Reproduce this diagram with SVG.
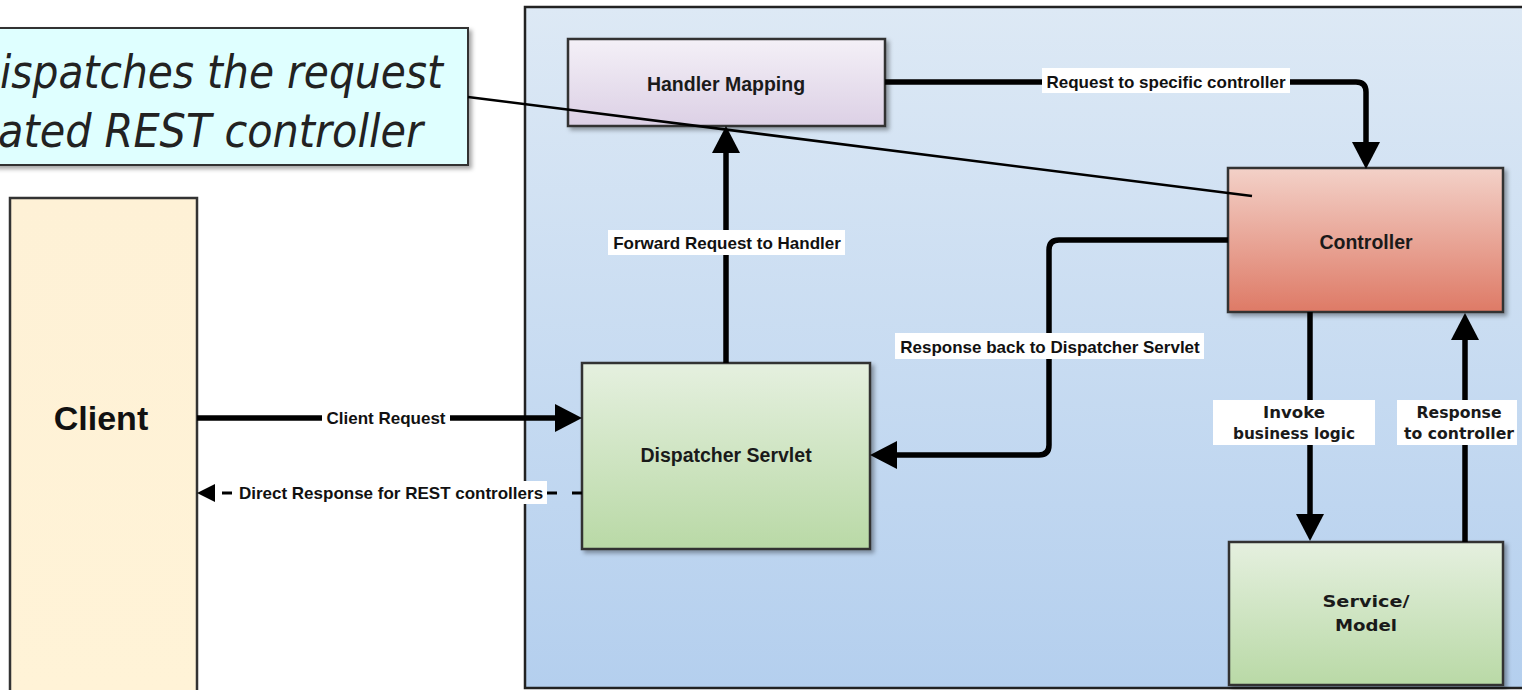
<svg xmlns="http://www.w3.org/2000/svg" width="1522" height="690" viewBox="0 0 1522 690">
<style>
.node{stroke:#333;stroke-width:2.5}
.nlabel{font-family:"Liberation Sans",Arial,sans-serif;font-weight:bold;font-size:19.5px;fill:#1a1a1a;text-anchor:middle}
.elabel{font-family:"Liberation Sans",Arial,sans-serif;font-weight:bold;font-size:17px;fill:#111;text-anchor:middle}
.tlabel{font-family:"DejaVu Sans",Verdana,sans-serif;font-weight:bold;font-size:16px;fill:#1a1a1a;text-anchor:middle}
.lbg{fill:#fff}
.conn{fill:none;stroke:#000;stroke-width:5.5}
</style>
<defs>
<linearGradient id="gBlue" x1="0" y1="0" x2="0" y2="1"><stop offset="0" stop-color="#dde9f5"/><stop offset="1" stop-color="#b4cfee"/></linearGradient>
<linearGradient id="gClient" x1="0" y1="0" x2="0" y2="1"><stop offset="0" stop-color="#fef1d6"/><stop offset="1" stop-color="#fff3d7"/></linearGradient>
<linearGradient id="gHandler" x1="0" y1="0" x2="0" y2="1"><stop offset="0" stop-color="#f4f0f7"/><stop offset="1" stop-color="#dcd0e5"/></linearGradient>
<linearGradient id="gGreen" x1="0" y1="0" x2="0" y2="1"><stop offset="0" stop-color="#e5f0df"/><stop offset="1" stop-color="#b9d9a6"/></linearGradient>
<linearGradient id="gRed" x1="0" y1="0" x2="0" y2="1"><stop offset="0" stop-color="#f3d1c8"/><stop offset="1" stop-color="#de7a66"/></linearGradient>
<filter id="sh" x="-10%" y="-10%" width="130%" height="130%"><feDropShadow dx="3" dy="3" stdDeviation="2" flood-color="#000" flood-opacity="0.35"/></filter>
<marker id="ah" markerUnits="userSpaceOnUse" markerWidth="27" markerHeight="28" viewBox="0 0 27 28" refX="0" refY="14" orient="auto"><path d="M0,0 L27,14 L0,28 z" fill="#000"/></marker>
<marker id="ahs" markerUnits="userSpaceOnUse" markerWidth="18" markerHeight="18" viewBox="0 0 18 18" refX="0" refY="9" orient="auto"><path d="M0,0 L18,9 L0,18 z" fill="#000"/></marker>
</defs>
<rect width="1522" height="690" fill="#fff"/>

<g id="container">
<rect x="525" y="7" width="1010" height="681" fill="url(#gBlue)" stroke="#222" stroke-width="2.5"/>
</g>

<g id="client">
<rect class="node" x="10" y="198" width="187" height="500" fill="url(#gClient)"/>
<text x="101" y="430" font-family="'Liberation Sans',Arial,sans-serif" font-weight="bold" font-size="34" fill="#111" text-anchor="middle">Client</text>
</g>

<g id="handler-mapping">
<rect class="node" x="568" y="39" width="317" height="87" fill="url(#gHandler)" filter="url(#sh)"/>
<text class="nlabel" x="726" y="91">Handler Mapping</text>
</g>

<g id="dispatcher-servlet">
<rect class="node" x="582" y="363" width="288" height="186" fill="url(#gGreen)" filter="url(#sh)"/>
<text class="nlabel" x="726" y="462">Dispatcher Servlet</text>
</g>

<g id="controller">
<rect class="node" x="1228" y="168" width="275" height="144" fill="url(#gRed)" filter="url(#sh)"/>
<text class="nlabel" x="1366" y="249">Controller</text>
</g>

<g id="service-model">
<rect class="node" x="1229" y="542" width="274" height="143" fill="url(#gGreen)" filter="url(#sh)"/>
<text class="tlabel" x="1366" y="607" font-size="21" textLength="87" lengthAdjust="spacingAndGlyphs">Service/</text>
<text class="tlabel" x="1366" y="631" font-size="21" textLength="62" lengthAdjust="spacingAndGlyphs">Model</text>
</g>

<g id="connectors">
<path class="conn" d="M885,82 H1356 Q1366,82 1366,92 V142" marker-end="url(#ah)"/>
<path class="conn" d="M726,363 V153" marker-end="url(#ah)"/>
<path class="conn" d="M197,418 H555" marker-end="url(#ah)"/>
<path class="conn" d="M1228,240 H1059 Q1049,240 1049,250 V445 Q1049,455 1039,455 H897" marker-end="url(#ah)"/>
<path class="conn" d="M1310,312 V514" marker-end="url(#ah)"/>
<path class="conn" d="M1465,542 V340" marker-end="url(#ah)"/>
<path fill="none" stroke="#000" stroke-width="3" stroke-dasharray="10 15" d="M582,493 H215" marker-end="url(#ahs)"/>

<rect class="lbg" x="1042" y="68" width="248" height="25"/>
<text class="elabel" x="1166" y="88">Request to specific controller</text>
<rect class="lbg" x="608" y="230" width="237" height="25"/>
<text class="elabel" x="727" y="249">Forward Request to Handler</text>
<rect class="lbg" x="322" y="408" width="128" height="21"/>
<text class="elabel" x="386" y="424">Client Request</text>
<rect class="lbg" x="236" y="481" width="311" height="23"/>
<text class="elabel" x="391" y="499">Direct Response for REST controllers</text>
<rect class="lbg" x="895" y="333" width="309" height="26"/>
<text class="elabel" x="1050" y="353">Response back to Dispatcher Servlet</text>
<rect class="lbg" x="1213" y="400" width="162" height="45"/>
<text class="tlabel" x="1294" y="418" textLength="62" lengthAdjust="spacingAndGlyphs">Invoke</text>
<text class="tlabel" x="1294" y="439" textLength="122" lengthAdjust="spacingAndGlyphs">business logic</text>
<rect class="lbg" x="1397" y="400" width="120" height="45"/>
<text class="tlabel" x="1459" y="418" textLength="85" lengthAdjust="spacingAndGlyphs">Response</text>
<text class="tlabel" x="1459" y="439" textLength="110" lengthAdjust="spacingAndGlyphs">to controller</text>
</g>

<g id="callout">
<rect x="-6" y="28" width="474" height="137" fill="#dfffff" stroke="#333" stroke-width="2" filter="url(#sh)"/>
<text font-family="'DejaVu Sans',Verdana,sans-serif" font-style="italic" font-size="46" fill="#222" x="0" y="88" textLength="443" lengthAdjust="spacingAndGlyphs">ispatches the request</text>
<text font-family="'DejaVu Sans',Verdana,sans-serif" font-style="italic" font-size="46" fill="#222" x="-2" y="147" textLength="425" lengthAdjust="spacingAndGlyphs">ated REST controller</text>
<path d="M468,97 L1252,196" fill="none" stroke="#000" stroke-width="2.5"/>
</g>
</svg>
